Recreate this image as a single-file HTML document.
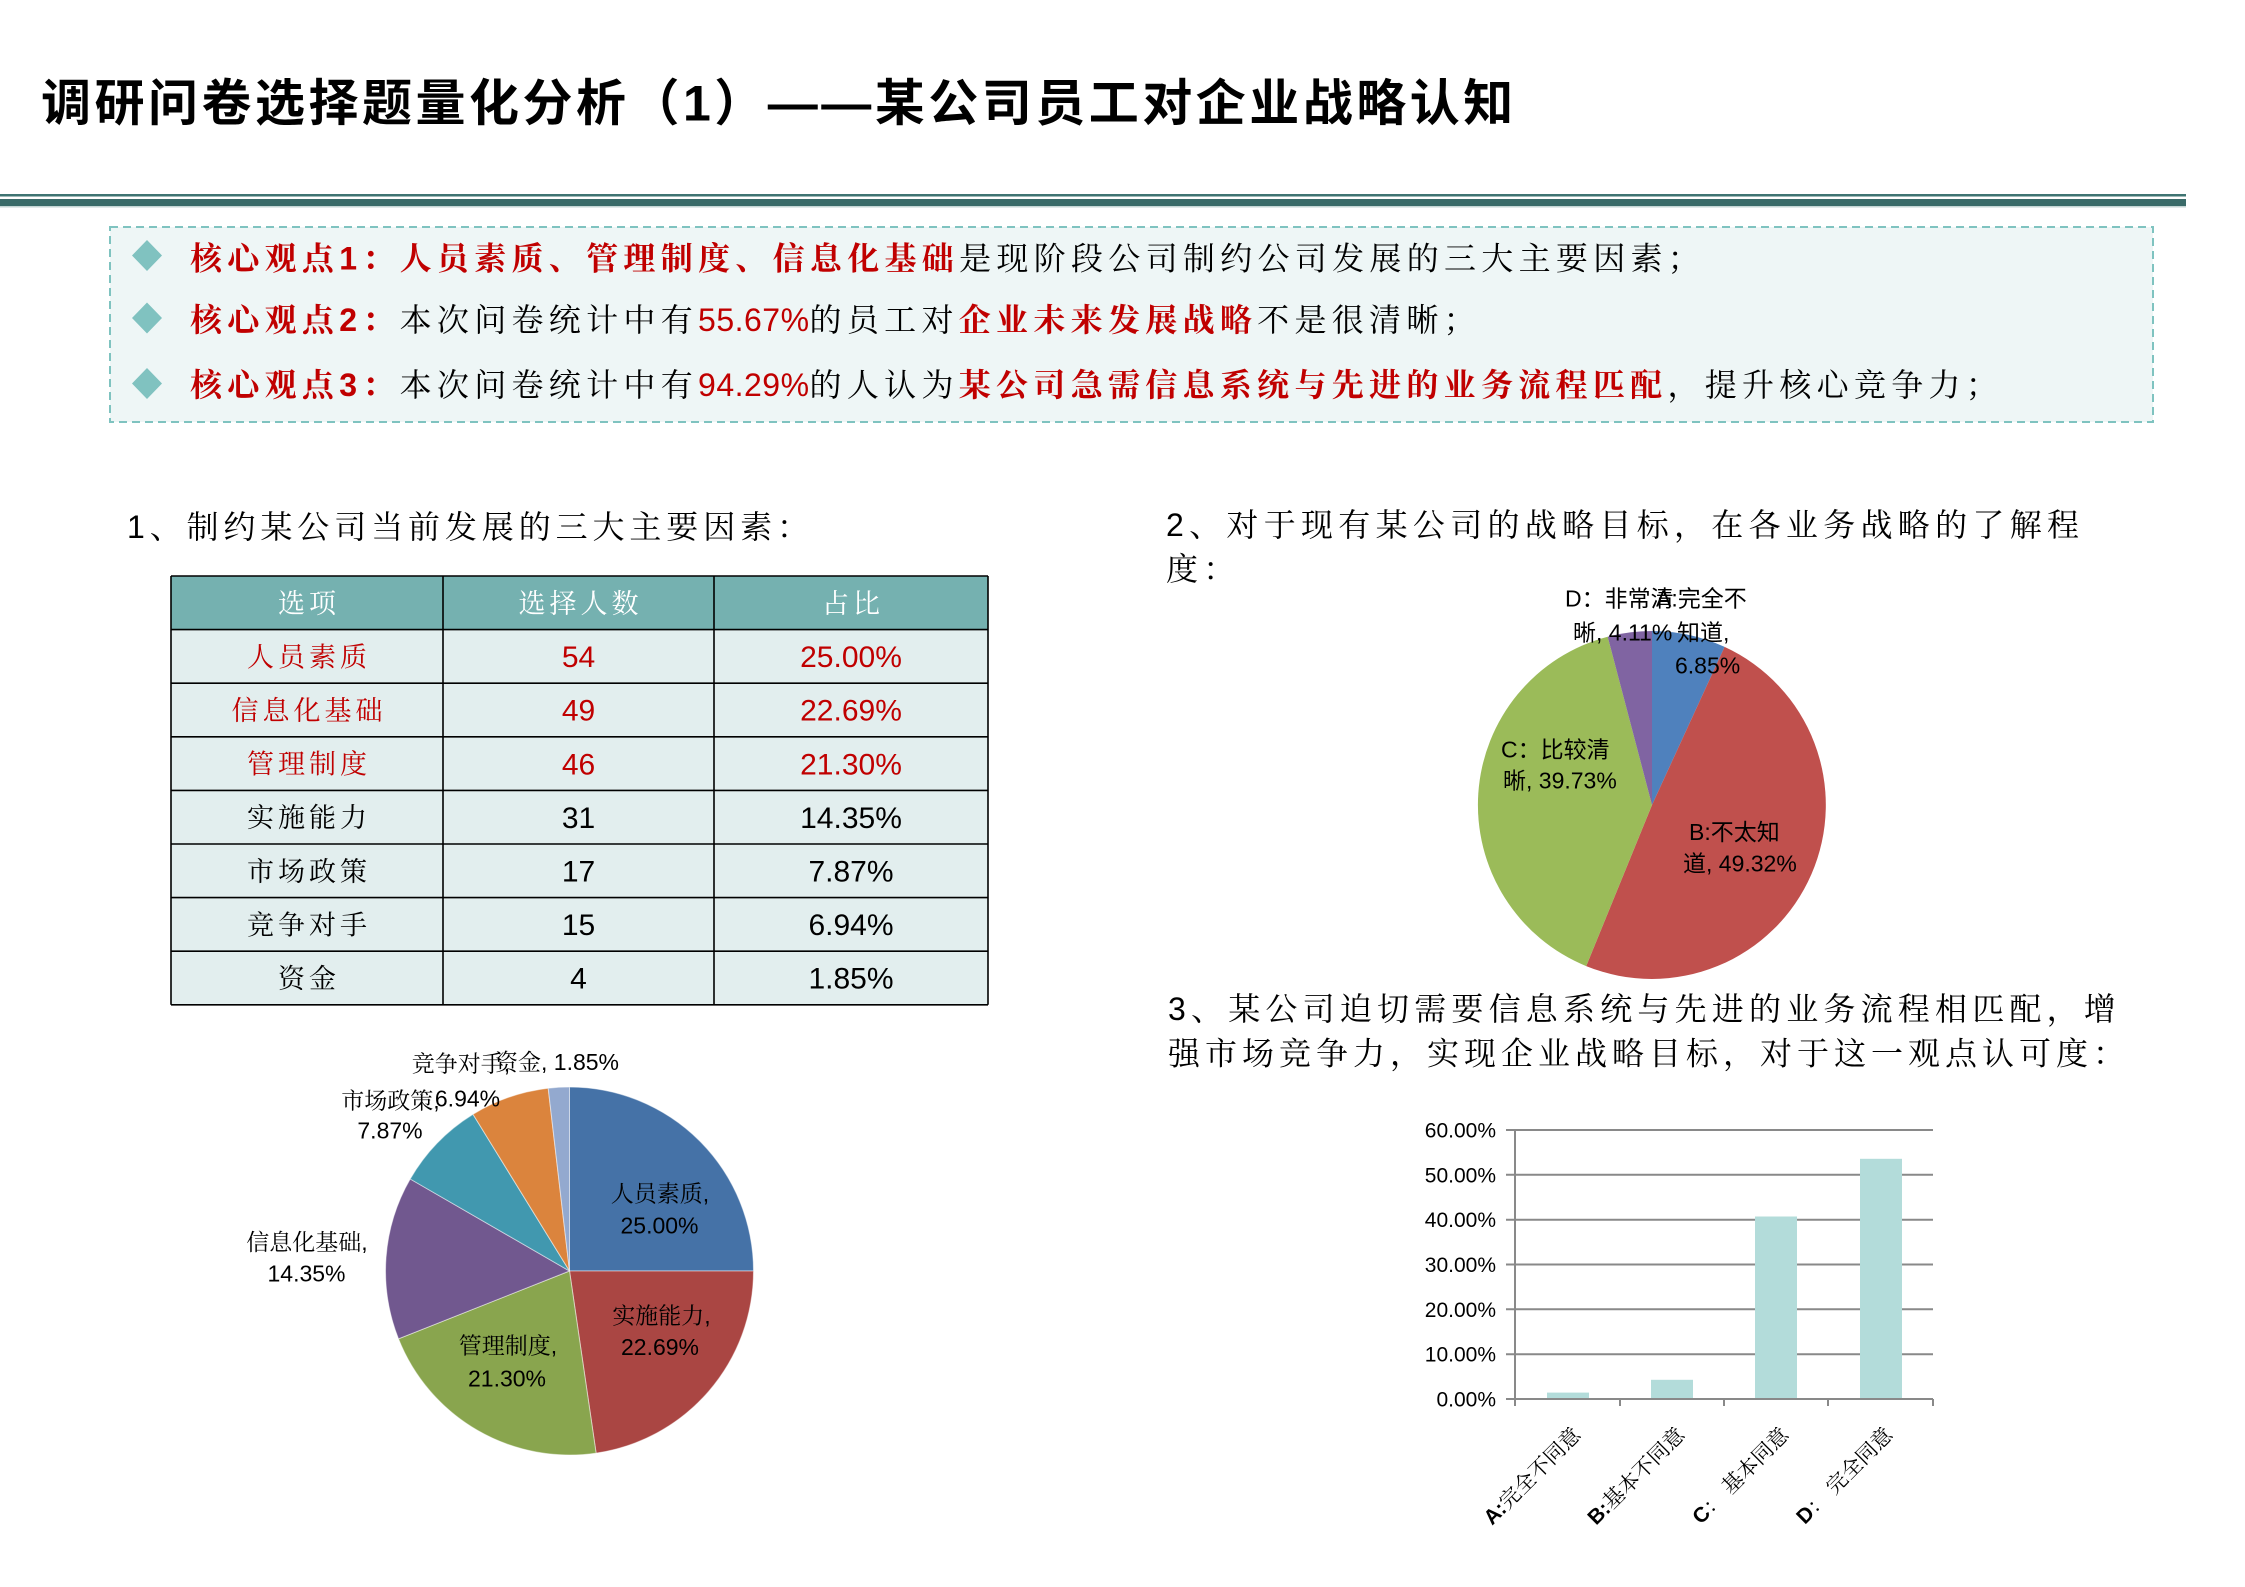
<!DOCTYPE html>
<html><head><meta charset="utf-8">
<style>
html,body{margin:0;padding:0;background:#fff;}
svg{display:block;}
.body{font-family:"Liberation Sans","Noto Serif CJK SC",serif;fill:#000;}
.rb{fill:#C00000;font-weight:bold;}
.rn{fill:#C00000;letter-spacing:0.5px;}
.lab{font-family:"Liberation Sans","Noto Serif CJK SC",serif;font-size:23px;fill:#000;}
.lab2{font-family:"Liberation Sans","Noto Sans CJK SC",sans-serif;font-size:23px;fill:#000;}
.tick{font-family:"Liberation Sans",sans-serif;font-size:21px;fill:#000;}
.cat{font-family:"Liberation Sans","Noto Serif CJK SC",serif;font-size:21px;fill:#000;}
.tc{font-family:"Liberation Sans","Noto Serif CJK SC",serif;font-size:27px;letter-spacing:4px;}
.tn{font-family:"Liberation Sans",sans-serif;font-size:30px;}
</style></head>
<body>
<svg width="2245" height="1587" viewBox="0 0 2245 1587" xmlns="http://www.w3.org/2000/svg">
<rect x="0" y="0" width="2245" height="1587" fill="#fff"/>

<!-- Title -->
<text x="41" y="120.5" font-size="50" font-weight="bold" style="letter-spacing:3.5px;font-family:'Liberation Sans','Noto Sans CJK SC',sans-serif;" fill="#000">调研问卷选择题量化分析（1）——某公司员工对企业战略认知</text>

<!-- Header lines -->
<rect x="0" y="194" width="2186" height="2.5" fill="#3F7472"/>
<rect x="0" y="199" width="2186" height="7" fill="#3A6B69"/>
<rect x="0" y="206" width="2186" height="1.5" fill="#C5D6D5"/>

<!-- Key points box -->
<rect x="110" y="227" width="2043" height="195" fill="#EEF6F6" stroke="#7FC3C0" stroke-width="2" stroke-dasharray="8 5"/>
<polygon points="147,240 162,255.5 147,271 132,255.5" fill="#80C2C0"/>
<polygon points="147,302.5 162,318 147,333.5 132,318" fill="#80C2C0"/>
<polygon points="147,368 162,383.5 147,399 132,383.5" fill="#80C2C0"/>

<text class="body" x="190" y="269.3" font-size="32" style="letter-spacing:5.3px"><tspan class="rb">核心观点1：人员素质、管理制度、信息化基础</tspan><tspan>是现阶段公司制约公司发展的三大主要因素；</tspan></text>
<text class="body" x="190" y="330.8" font-size="32" style="letter-spacing:5.3px"><tspan class="rb">核心观点2：</tspan><tspan>本次问卷统计中有</tspan><tspan class="rn">55.67%</tspan><tspan>的员工对</tspan><tspan class="rb">企业未来发展战略</tspan><tspan>不是很清晰；</tspan></text>
<text class="body" x="190" y="395.8" font-size="32" style="letter-spacing:5.3px"><tspan class="rb">核心观点3：</tspan><tspan>本次问卷统计中有</tspan><tspan class="rn">94.29%</tspan><tspan>的人认为</tspan><tspan class="rb">某公司急需信息系统与先进的业务流程匹配</tspan><tspan>，提升核心竞争力；</tspan></text>

<!-- Section headings -->
<text class="body" x="127" y="537.8" font-size="32" style="letter-spacing:4.9px">1、制约某公司当前发展的三大主要因素：</text>
<text class="body" x="1166" y="535.8" font-size="32" style="letter-spacing:5.3px">2、对于现有某公司的战略目标，在各业务战略的了解程</text>
<text class="body" x="1166" y="579.8" font-size="32" style="letter-spacing:5.3px">度：</text>
<text class="body" x="1168" y="1019.8" font-size="32" style="letter-spacing:5.2px">3、某公司迫切需要信息系统与先进的业务流程相匹配，增</text>
<text class="body" x="1168" y="1064.3" font-size="32" style="letter-spacing:5.0px">强市场竞争力，实现企业战略目标，对于这一观点认可度：</text>

<!-- Table -->
<rect x="171" y="576" width="817" height="53.6" fill="#75B1B0"/>
<rect x="171" y="629.6" width="817" height="375.2" fill="#E2EEEE"/>
<g stroke="#000" stroke-width="1.6">
<line x1="171" y1="576" x2="988" y2="576"/>
<line x1="171" y1="629.6" x2="988" y2="629.6"/>
<line x1="171" y1="683.2" x2="988" y2="683.2"/>
<line x1="171" y1="736.8" x2="988" y2="736.8"/>
<line x1="171" y1="790.4" x2="988" y2="790.4"/>
<line x1="171" y1="844" x2="988" y2="844"/>
<line x1="171" y1="897.6" x2="988" y2="897.6"/>
<line x1="171" y1="951.2" x2="988" y2="951.2"/>
<line x1="171" y1="1004.8" x2="988" y2="1004.8"/>
<line x1="171" y1="576" x2="171" y2="1004.8"/>
<line x1="443" y1="576" x2="443" y2="1004.8"/>
<line x1="714" y1="576" x2="714" y2="1004.8"/>
<line x1="988" y1="576" x2="988" y2="1004.8"/>
</g>
<g text-anchor="middle">
<text class="tc" x="309" y="612.8" fill="#fff">选项</text>
<text class="tc" x="580.5" y="612.8" fill="#fff">选择人数</text>
<text class="tc" x="853" y="612.8" fill="#fff">占比</text>

<text class="tc" x="309" y="666.4" fill="#C00000">人员素质</text>
<text class="tn" x="578.5" y="667.1" fill="#C00000">54</text>
<text class="tn" x="851" y="667.1" fill="#C00000">25.00%</text>

<text class="tc" x="309" y="720" fill="#C00000">信息化基础</text>
<text class="tn" x="578.5" y="720.7" fill="#C00000">49</text>
<text class="tn" x="851" y="720.7" fill="#C00000">22.69%</text>

<text class="tc" x="309" y="773.6" fill="#C00000">管理制度</text>
<text class="tn" x="578.5" y="774.3" fill="#C00000">46</text>
<text class="tn" x="851" y="774.3" fill="#C00000">21.30%</text>

<text class="tc" x="309" y="827.2" fill="#000">实施能力</text>
<text class="tn" x="578.5" y="827.9" fill="#000">31</text>
<text class="tn" x="851" y="827.9" fill="#000">14.35%</text>

<text class="tc" x="309" y="880.8" fill="#000">市场政策</text>
<text class="tn" x="578.5" y="881.5" fill="#000">17</text>
<text class="tn" x="851" y="881.5" fill="#000">7.87%</text>

<text class="tc" x="309" y="934.4" fill="#000">竞争对手</text>
<text class="tn" x="578.5" y="935.1" fill="#000">15</text>
<text class="tn" x="851" y="935.1" fill="#000">6.94%</text>

<text class="tc" x="309" y="988" fill="#000">资金</text>
<text class="tn" x="578.5" y="988.7" fill="#000">4</text>
<text class="tn" x="851" y="988.7" fill="#000">1.85%</text>
</g>

<!-- Pie 1 -->
<g stroke="#ffffff" stroke-opacity="0.5" stroke-width="1">
<path d="M569.5,1271 L569.5,1087 A184,184 0 0 1 753.5,1271 Z" fill="#4572A7"/>
<path d="M569.5,1271 L753.5,1271 A184,184 0 0 1 596.1,1453.1 Z" fill="#AA4643"/>
<path d="M569.5,1271 L596.1,1453.1 A184,184 0 0 1 398.5,1338.8 Z" fill="#89A54E"/>
<path d="M569.5,1271 L398.5,1338.8 A184,184 0 0 1 410.2,1179 Z" fill="#71588F"/>
<path d="M569.5,1271 L410.2,1179 A184,184 0 0 1 473,1114.3 Z" fill="#4198AF"/>
<path d="M569.5,1271 L473,1114.3 A184,184 0 0 1 548.2,1088.2 Z" fill="#DB843D"/>
<path d="M569.5,1271 L548.2,1088.2 A184,184 0 0 1 569.5,1087 Z" fill="#93A9CF"/>
</g>
<g text-anchor="middle">
<text class="lab" x="660" y="1201.3">人员素质,</text>
<text class="lab" x="659.5" y="1233.3">25.00%</text>
<text class="lab" x="661.5" y="1323.3">实施能力,</text>
<text class="lab" x="660" y="1355">22.69%</text>
<text class="lab" x="508" y="1353.3">管理制度,</text>
<text class="lab" x="507" y="1386.6">21.30%</text>
<text class="lab" x="307" y="1250">信息化基础,</text>
<text class="lab" x="306.5" y="1281.6">14.35%</text>
<text class="lab" x="390.5" y="1108.3">市场政策,</text>
<text class="lab" x="390" y="1138.3">7.87%</text>
<text class="lab" x="461" y="1071.6">竞争对手,</text>
<text class="lab" x="467.5" y="1106.6">6.94%</text>
</g>
<text class="lab" x="495" y="1070">资金, 1.85%</text>

<!-- Pie 2 -->
<path d="M1652,805 L1652,631 A174,174 0 0 1 1724.6,646.9 Z" fill="#4F81BD"/>
<path d="M1652,805 L1724.6,646.9 A174,174 0 0 1 1586.2,966.1 Z" fill="#C0504D"/>
<path d="M1652,805 L1586.2,966.1 A174,174 0 0 1 1607.7,636.7 Z" fill="#9BBB59"/>
<path d="M1652,805 L1607.7,636.7 A174,174 0 0 1 1652,631 Z" fill="#8064A2"/>
<text class="lab2" x="1565" y="606.3">D：非常清</text>
<text class="lab2" x="1573" y="640.3">晰, 4.11%</text>
<text class="lab2" x="1656" y="606.3">A:完全不</text>
<text class="lab2" x="1677" y="640.3">知道,</text>
<text class="lab2" x="1675" y="673.3">6.85%</text>
<text class="lab2" x="1501" y="757.3">C：比较清</text>
<text class="lab2" x="1503" y="788.4">晰, 39.73%</text>
<text class="lab2" x="1689" y="839.8">B:不太知</text>
<text class="lab2" x="1683" y="871.3">道, 49.32%</text>

<!-- Bar chart -->
<g stroke="#898989" stroke-width="2">
<line x1="1506" y1="1130" x2="1933" y2="1130"/>
<line x1="1506" y1="1174.8" x2="1933" y2="1174.8"/>
<line x1="1506" y1="1219.7" x2="1933" y2="1219.7"/>
<line x1="1506" y1="1264.5" x2="1933" y2="1264.5"/>
<line x1="1506" y1="1309.3" x2="1933" y2="1309.3"/>
<line x1="1506" y1="1354.2" x2="1933" y2="1354.2"/>
</g>
<g fill="#B3DCDA">
<rect x="1547" y="1392.6" width="42" height="6.4"/>
<rect x="1651" y="1379.8" width="42" height="19.2"/>
<rect x="1755" y="1216.5" width="42" height="182.5"/>
<rect x="1860" y="1158.8" width="42" height="240.2"/>
</g>
<g stroke="#898989" stroke-width="2">
<line x1="1515" y1="1130" x2="1515" y2="1406"/>
<line x1="1506" y1="1399" x2="1933" y2="1399"/>
<line x1="1620" y1="1399" x2="1620" y2="1406"/>
<line x1="1724" y1="1399" x2="1724" y2="1406"/>
<line x1="1828" y1="1399" x2="1828" y2="1406"/>
<line x1="1933" y1="1399" x2="1933" y2="1406"/>
</g>
<g text-anchor="end">
<text class="tick" x="1496" y="1137.5">60.00%</text>
<text class="tick" x="1496" y="1182.3">50.00%</text>
<text class="tick" x="1496" y="1227.2">40.00%</text>
<text class="tick" x="1496" y="1272">30.00%</text>
<text class="tick" x="1496" y="1316.8">20.00%</text>
<text class="tick" x="1496" y="1361.7">10.00%</text>
<text class="tick" x="1496" y="1406.5">0.00%</text>
</g>
<g text-anchor="end">
<text class="cat" transform="translate(1582,1436) rotate(-45)"><tspan font-weight="bold">A:</tspan>完全不同意</text>
<text class="cat" transform="translate(1686,1436) rotate(-45)"><tspan font-weight="bold">B:</tspan>基本不同意</text>
<text class="cat" transform="translate(1790,1436) rotate(-45)"><tspan font-weight="bold">C</tspan>： 基本同意</text>
<text class="cat" transform="translate(1894,1436) rotate(-45)"><tspan font-weight="bold">D</tspan>： 完全同意</text>
</g>
</svg>
</body></html>
